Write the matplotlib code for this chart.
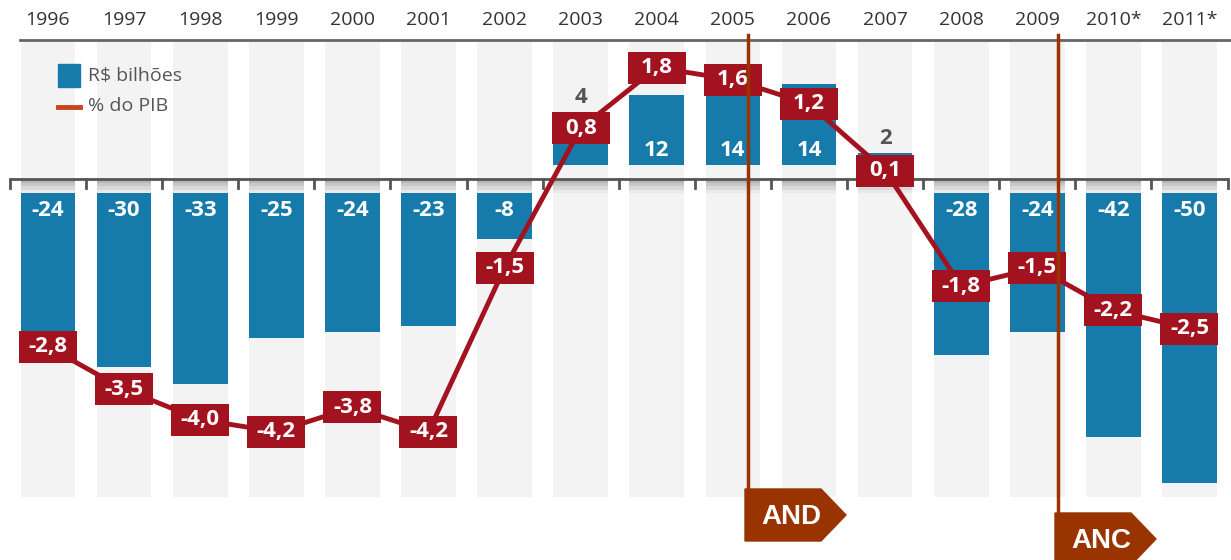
import matplotlib.pyplot as plt
import numpy as np
from matplotlib.patches import Rectangle, Polygon
from matplotlib.lines import Line2D
from matplotlib.path import Path
from matplotlib.markers import MarkerStyle

# Resultado primário: R$ bilhões (barras) e % do PIB (linha)
anos = ['1996', '1997', '1998', '1999', '2000', '2001', '2002', '2003',
        '2004', '2005', '2006', '2007', '2008', '2009', '2010*', '2011*']
bilhoes = [-24, -30, -33, -25, -24, -23, -8, 4, 12, 14, 14, 2, -28, -24, -42, -50]
pib = [-2.8, -3.5, -4.0, -4.2, -3.8, -4.2, -1.5, 0.8, 1.8, 1.6, 1.2, 0.1,
       -1.8, -1.5, -2.2, -2.5]

W, H = 1231, 560
AZUL = '#167bab'
VERMELHO = '#a3121f'
MARROM = '#993300'
CINZA_FUNDO = '#f3f3f3'

plt.rcParams['font.family'] = ['Open Sans', 'DejaVu Sans']

fig = plt.figure(figsize=(W / 100, H / 100), dpi=100)
ax = fig.add_axes([0, 0, 1, 1])
ax.set_axis_off()

# escala das barras: 0 em y=179 px, 5.8 px por bilhão
esc = 5.8
zero_px = 179
gap = 14 / esc
ax.set_xlim(-48 / 76.1, (W - 48) / 76.1)
ax.set_ylim(-(H - zero_px) / esc, zero_px / esc)

# escala da linha (% do PIB)
esc2 = 60.7
zero2 = 176.8

def fy(px):
    return 1 - px / H

x = np.arange(len(anos))
larg = 0.72

# faixas cinza de fundo
topo = (zero_px - 42) / esc
base = -(497 - zero_px) / esc
ax.bar(x, topo - base, bottom=base, width=larg, color=CINZA_FUNDO, zorder=0)

# sombra logo abaixo do eixo
tons = ['#b5b5b5', '#c8c8c8', '#d9d9d9', '#e8e8e8']
for k, c in enumerate(tons):
    ax.bar(x, -gap / len(tons), bottom=-k * gap / len(tons), width=larg,
           color=c, zorder=1)

# barras
vals = np.array(bilhoes)
bottoms = np.where(vals > 0, gap, -gap)
ax.bar(x, vals, bottom=bottoms, width=larg, color=AZUL, zorder=2)

for i, v in enumerate(bilhoes):
    if v < 0:
        ax.text(i, -gap - 17 / esc, str(v), ha='center', va='center',
                color='white', fontsize=16, fontweight='bold', zorder=3)
    elif v >= 10:
        ax.text(i, gap + 15 / esc, str(v), ha='center', va='center',
                color='white', fontsize=16, fontweight='bold', zorder=3)
    else:
        # valor pequeno: rótulo acima da barra e da caixa do % do PIB
        topo_caixa = (zero_px - (zero2 - pib[i] * esc2 - 16)) / esc
        y_lab = max(gap + v, topo_caixa) + 15 / esc
        ax.text(i, y_lab, str(v), ha='center', va='center',
                color='#555555', fontsize=16, fontweight='bold', zorder=3)

# eixo horizontal com marcas entre as colunas
blend = ax.get_xaxis_transform()
ax.plot([-0.5, len(anos) - 0.5], [0, 0], color='#555555', lw=2, zorder=4,
        solid_capstyle='butt')
for t in np.arange(-0.5, len(anos), 1.0):
    ax.plot([t, t], [0, -9 / esc], color='#555555', lw=2, zorder=4)

# linha superior e anos
fig.add_artist(Line2D([20 / W, 1], [fy(40), fy(40)], color='#666666', lw=2))
for i, a in enumerate(anos):
    ax.text(i, fy(20), a, transform=blend, ha='center', va='center',
            fontsize=14, color='#333333')

# % do PIB em eixo secundário
ax2 = ax.twinx()
ax2.set_axis_off()
ax2.set_ylim(-(H - zero2) / esc2, zero2 / esc2)

caixa = MarkerStyle(Path([(-1, -0.55), (1, -0.55), (1, 0.55), (-1, 0.55),
                          (-1, -0.55)], closed=True))
ax2.plot(x, pib, color=VERMELHO, lw=3.5, zorder=5, marker=caixa,
         markersize=41.8, markerfacecolor=VERMELHO, markeredgewidth=0)
for i, v in enumerate(pib):
    ax2.text(i, v, f'{v:.1f}'.replace('.', ','), ha='center', va='center',
             color='white', fontsize=16, fontweight='bold', zorder=6)

# legenda
fig.add_artist(Rectangle((58 / W, fy(87)), 22 / W, 23 / H, color=AZUL))
fig.text(88 / W, fy(76), r'R\$ bilhões', fontsize=14, color='#555555',
         va='center')
fig.add_artist(Line2D([58 / W, 80 / W], [fy(107), fy(107)], color='#c8441e',
                      lw=3.5))
fig.text(88 / W, fy(106), '% do PIB', fontsize=14, color='#555555',
         va='center')

# marcadores AND / ANC
def marcador(xl, yt, rotulo):
    fig.add_artist(Line2D([xl / W, xl / W], [fy(35), fy(yt + 5)],
                          color=MARROM, lw=2.5))
    pts = [(xl - 3, yt), (xl + 73, yt), (xl + 98, yt + 26),
           (xl + 73, yt + 52), (xl - 3, yt + 52)]
    fig.add_artist(Polygon([(px / W, fy(py)) for px, py in pts],
                           closed=True, color=MARROM))
    fig.text((xl + 43) / W, fy(yt + 28), rotulo, fontsize=20, color='white',
             fontweight='bold', ha='center', va='center',
             family=['Liberation Sans', 'DejaVu Sans'])

marcador(748, 489, 'AND')
marcador(1058, 513, 'ANC')

fig.savefig('out.png', dpi=100)
